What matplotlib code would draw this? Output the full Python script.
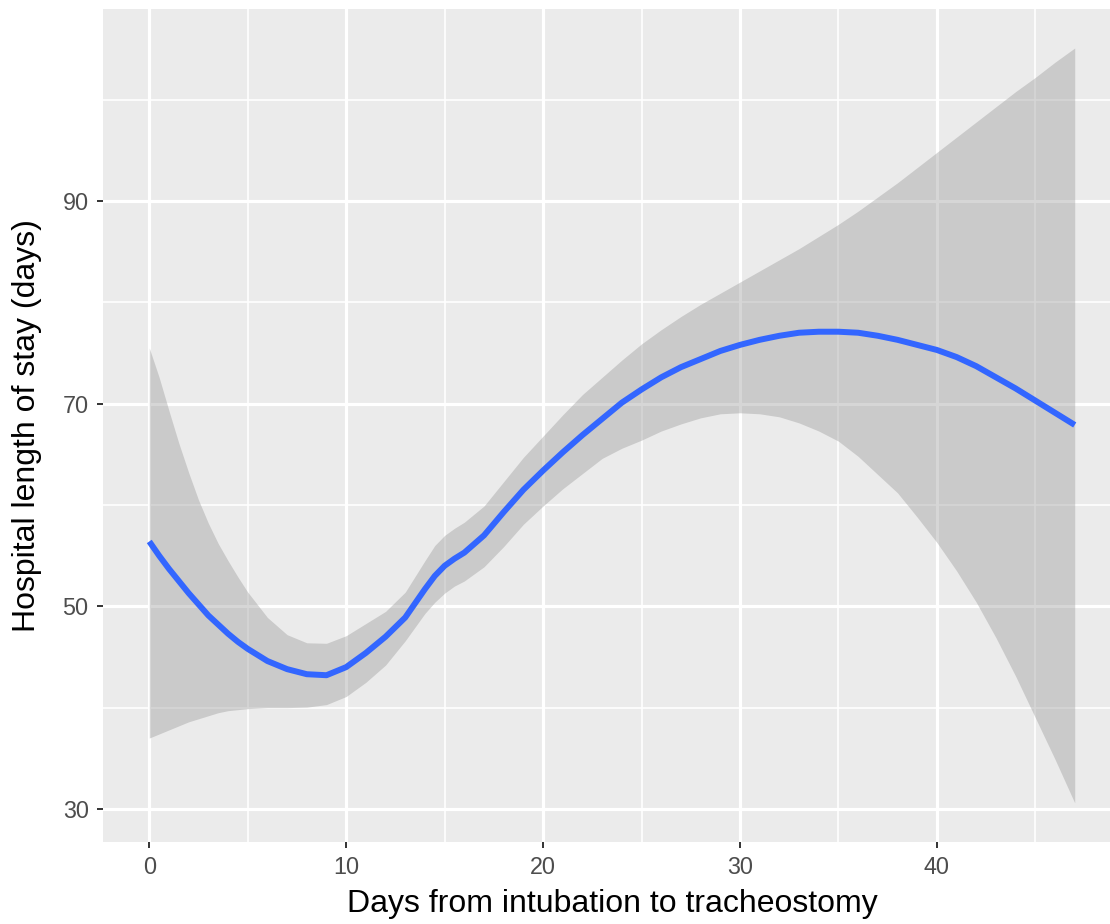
import matplotlib
matplotlib.use("Agg")
import matplotlib.pyplot as plt
from matplotlib.ticker import FixedLocator

# Data (loess fit with 95% band)
days = [0, 0.5, 1, 1.5, 2, 2.5, 3, 3.5, 4, 4.5, 5, 6, 7, 8, 9, 10, 11, 12, 13, 14,
        14.5, 15, 15.5, 16, 17, 18, 19, 20, 21, 22, 23, 24, 25, 26, 27, 28, 29, 30,
        31, 32, 33, 34, 35, 36, 37, 38, 39, 40, 41, 42, 43, 44, 45, 46, 47]
fit = [56.4, 55.0, 53.7, 52.5, 51.3, 50.2, 49.1, 48.2, 47.3, 46.5, 45.8, 44.6, 43.8,
       43.3, 43.2, 44.0, 45.4, 47.0, 48.9, 51.7,
       53.0, 54.0, 54.7, 55.3, 57.0, 59.3, 61.5, 63.4, 65.2, 66.9, 68.5, 70.1, 71.4,
       72.6, 73.6, 74.4, 75.2, 75.8,
       76.3, 76.7, 77.0, 77.1, 77.1, 77.0, 76.7, 76.3, 75.8, 75.3, 74.6, 73.7, 72.6,
       71.5, 70.3, 69.1, 67.9]
upper = [75.5, 72.6, 69.3, 66.1, 63.2, 60.5, 58.2, 56.2, 54.5, 52.9, 51.4, 48.9, 47.2,
         46.4, 46.35, 47.1, 48.3, 49.5, 51.4, 54.5,
         56.0, 57.0, 57.7, 58.3, 59.9, 62.3, 64.7, 66.8, 68.9, 70.9, 72.6, 74.3, 75.9,
         77.3, 78.6, 79.8, 80.9, 82.0,
         83.1, 84.2, 85.3, 86.5, 87.7, 89.0, 90.4, 91.8, 93.3, 94.8, 96.3, 97.8, 99.3,
         100.8, 102.2, 103.7, 105.1]
lower = [37.0, 37.4, 37.8, 38.2, 38.6, 38.9, 39.2, 39.5, 39.7, 39.8, 39.9, 40.0, 40.0,
         40.05, 40.3, 41.1, 42.5, 44.2, 46.6, 49.3,
         50.4, 51.3, 52.0, 52.5, 53.9, 55.9, 58.1, 59.9, 61.6, 63.1, 64.6, 65.6, 66.4,
         67.3, 68.0, 68.6, 69.0, 69.1,
         69.0, 68.7, 68.1, 67.3, 66.3, 64.8, 63.0, 61.2, 58.8, 56.3, 53.5, 50.4, 46.9,
         43.1, 39.0, 34.9, 30.6]

x_ticks = [0, 10, 20, 30, 40]
y_ticks = [30, 50, 70, 90]
x_label = "Days from intubation to tracheostomy"
y_label = "Hospital length of stay (days)"

W, H = 1110, 924
fig = plt.figure(figsize=(W / 100, H / 100), dpi=100, facecolor="white")
left, right, top, bottom = 103, 1121, 9, 842
ax = fig.add_axes([left / W, (H - bottom) / H, (right - left) / W, (bottom - top) / H])
ax.set_facecolor("#EBEBEB")
for s in ax.spines.values():
    s.set_visible(False)

ax.fill_between(days, lower, upper, color="#999999", alpha=0.4, linewidth=0, zorder=2)
ax.plot(days, fit, color="#3366FF", linewidth=4.3, solid_capstyle="butt",
        solid_joinstyle="round", zorder=3)

ax.set_xlim(-2.35, 49.35)
ax.set_ylim(26.74, 108.95)
ax.xaxis.set_major_locator(FixedLocator(x_ticks))
ax.yaxis.set_major_locator(FixedLocator(y_ticks))
ax.xaxis.set_minor_locator(FixedLocator([5, 15, 25, 35, 45]))
ax.yaxis.set_minor_locator(FixedLocator([40, 60, 80, 100]))

ax.set_axisbelow(True)
ax.grid(which="major", color="white", linewidth=2.3)
ax.grid(which="minor", color="white", linewidth=1.2)

font = ["Liberation Sans", "DejaVu Sans"]
ax.tick_params(which="major", length=4.3, width=1.4, color="#333333",
               labelsize=16.8, labelcolor="#4D4D4D", pad=6)
ax.tick_params(which="minor", length=0)
for lab in ax.get_xticklabels() + ax.get_yticklabels():
    lab.set_fontfamily(font)

ax.set_xlabel(x_label, fontsize=23, family=font, color="black")
ax.set_ylabel(y_label, fontsize=23, family=font, color="black")
ax.xaxis.set_label_coords(0.5, (bottom - 889) / (bottom - top))
ax.xaxis.label.set_va("top")
ax.yaxis.set_label_coords((12 - left) / (right - left), 0.5)
ax.yaxis.label.set_va("top")

fig.savefig("out.png", dpi=100, facecolor="white")
